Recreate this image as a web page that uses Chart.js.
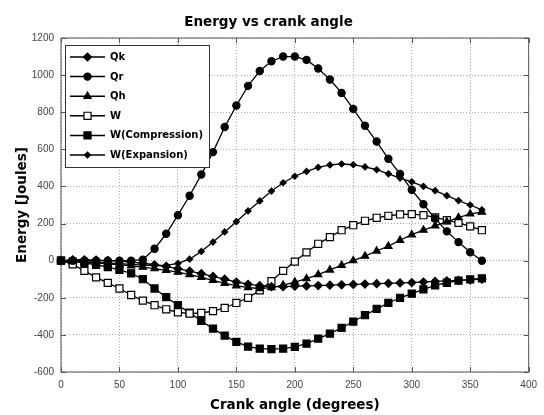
<!DOCTYPE html>
<html>
<head>
<meta charset="utf-8">
<script src="https://cdn.jsdelivr.net/npm/chart.js@4.4.1/dist/chart.umd.min.js"></script>
<style>
  html, body { margin: 0; padding: 0; background: #fff; }
  #wrap { width: 544px; height: 415px; }
</style>
</head>
<body>
<div id="wrap"><canvas id="energyChart" width="544" height="415"></canvas></div>
<script>
// --- Data (crank angle in degrees, energy in Joules) ---
const angles = [0, 10, 20, 30, 40, 50, 60, 70, 80, 90, 100, 110, 120, 130, 140, 150, 160, 170, 180,
                190, 200, 210, 220, 230, 240, 250, 260, 270, 280, 290, 300, 310, 320, 330, 340, 350, 360];

const qk = [0, 5, 5, 3, 0, -3, -8, -14, -22, -32, -43, -56, -70, -85, -100, -115, -127, -135, -140,
            -140, -138, -136, -134, -132, -130, -128, -126, -124, -122, -120, -118, -115, -112, -109, -106, -103, -100];
const qr = [0, 0, 0, 0, 0, 0, 0, 5, 64, 145, 245, 350, 464, 585, 720, 836, 942, 1022, 1075,
            1100, 1100, 1082, 1036, 976, 904, 818, 727, 642, 549, 467, 382, 304, 227, 158, 100, 45, 0];
const qh = [0, -3, -8, -12, -17, -22, -28, -35, -43, -52, -62, -75, -90, -106, -122, -135, -145, -150, -145,
            -132, -115, -97, -75, -50, -25, 0, 25, 52, 78, 110, 140, 165, 188, 210, 232, 252, 262];
const w = [0, -20, -55, -90, -120, -150, -185, -215, -240, -262, -278, -285, -282, -272, -255, -228, -200, -160, -110,
           -55, -5, 45, 91, 127, 164, 191, 215, 231, 242, 249, 251, 245, 233, 218, 204, 185, 164];
const wComp = [0, -5, -12, -22, -35, -50, -68, -100, -150, -197, -240, -280, -325, -366, -404, -438, -463, -474, -477,
               -474, -465, -447, -420, -393, -362, -328, -294, -260, -228, -200, -178, -155, -133, -119, -108, -101, -96];
const wExp = [0, -2, -5, -8, -12, -16, -20, -24, -26, -25, -15, 8, 50, 100, 155, 210, 268, 322, 375,
              420, 455, 481, 503, 516, 521, 517, 505, 490, 468, 445, 425, 400, 377, 350, 324, 300, 274];

const xTicks = [0, 50, 100, 150, 200, 250, 300, 350, 400];
const yTicks = [-600, -400, -200, 0, 200, 400, 600, 800, 1000, 1200];

const seriesNames = ['Qk', 'Qr', 'Qh', 'W', 'W(Compression)', 'W(Expansion)'];

// --- Styling per series: marker shape, size, fill ---
const markerStyles = [
    { shape: 'rectRot', radius: 4, fill: '#000' },
    { shape: 'circle', radius: 3.6, fill: '#000' },
    { shape: 'triangle', radius: 4.2, fill: '#000' },
    { shape: 'rect', radius: 5, fill: '#fff' },
    { shape: 'rect', radius: 5, fill: '#000' },
    { shape: 'rectRot', radius: 3, fill: '#000' }
];

function toPoints(values) {
    return values.map((v, i) => ({ x: angles[i], y: v }));
}

const allSeries = [qk, qr, qh, w, wComp, wExp];

const datasets = allSeries.map((vals, i) => ({
    label: seriesNames[i],
    data: toPoints(vals),
    borderColor: '#000',
    borderWidth: 1.3,
    pointStyle: markerStyles[i].shape,
    pointRadius: markerStyles[i].radius,
    pointBackgroundColor: markerStyles[i].fill,
    pointBorderColor: '#000',
    pointBorderWidth: 1.2,
    tension: 0,
    clip: false
}));

const tickFont = { family: '"Liberation Sans", Arial, sans-serif', size: 10 };
const titleFont = { family: '"DejaVu Sans", sans-serif', size: 13.5, weight: 'bold' };

// --- Frame with inner tick marks, MATLAB style ---
const framePlugin = {
    id: 'frame',
    beforeDatasetsDraw(chart) {
        const { ctx, chartArea: a, scales } = chart;
        ctx.save();
        ctx.strokeStyle = '#555';
        ctx.lineWidth = 1;
        ctx.setLineDash([]);
        ctx.strokeRect(a.left, a.top, a.right - a.left, a.bottom - a.top);
        const len = 5;
        ctx.beginPath();
        xTicks.forEach(t => {
            const x = Math.round(scales.x.getPixelForValue(t)) + 0.5;
            ctx.moveTo(x, a.bottom); ctx.lineTo(x, a.bottom - len);
            ctx.moveTo(x, a.top); ctx.lineTo(x, a.top + len);
        });
        yTicks.forEach(t => {
            const y = Math.round(scales.y.getPixelForValue(t)) + 0.5;
            ctx.moveTo(a.left, y); ctx.lineTo(a.left + len, y);
            ctx.moveTo(a.right, y); ctx.lineTo(a.right - len, y);
        });
        ctx.stroke();
        ctx.restore();
    }
};

// --- Legend box with line + marker samples ---
const legendPlugin = {
    id: 'boxLegend',
    afterDraw(chart) {
        const { ctx } = chart;
        const box = { x: 65.5, y: 45.5, w: 144, h: 122 };
        ctx.save();
        ctx.fillStyle = '#fff';
        ctx.fillRect(box.x, box.y, box.w, box.h);
        ctx.strokeStyle = '#333';
        ctx.lineWidth = 1;
        ctx.strokeRect(box.x, box.y, box.w, box.h);
        ctx.font = 'bold 10px "DejaVu Sans", sans-serif';
        ctx.textBaseline = 'middle';
        seriesNames.forEach((name, i) => {
            const y = 57 + i * 19.6;
            ctx.strokeStyle = '#000';
            ctx.lineWidth = 1.5;
            ctx.beginPath();
            ctx.moveTo(70, y); ctx.lineTo(105, y);
            ctx.stroke();
            const m = markerStyles[i];
            ctx.fillStyle = m.fill;
            ctx.lineWidth = 1.2;
            Chart.helpers.drawPoint(ctx, { pointStyle: m.shape, radius: m.radius, borderWidth: 1.2, rotation: 0 }, 87.5, y);
            ctx.fillStyle = '#000';
            ctx.fillText(name, 110, y + 0.5);
        });
        ctx.restore();
    }
};

const ctx = document.getElementById('energyChart').getContext('2d');
new Chart(ctx, {
    type: 'line',
    data: { datasets: datasets },
    options: {
        responsive: false,
        animation: false,
        layout: { padding: { left: 0, right: 7, top: 0, bottom: 0 } },
        plugins: {
            legend: { display: false },
            tooltip: { enabled: false },
            title: {
                display: true,
                text: 'Energy vs crank angle',
                color: '#000',
                font: titleFont,
                padding: { top: 14, bottom: 7.8 }
            }
        },
        scales: {
            x: {
                type: 'linear',
                min: 0,
                max: 400,
                afterBuildTicks: scale => { scale.ticks = xTicks.map(v => ({ value: v })); },
                afterFit: scale => { scale.height = 43; },
                grid: { color: '#aaa', lineWidth: 1, drawTicks: false },
                border: { display: false, dash: [1, 2] },
                ticks: { color: '#444', font: tickFont, padding: 7, maxRotation: 0, callback: v => String(v) },
                title: { display: true, text: 'Crank angle (degrees)', color: '#000', font: titleFont, padding: { top: 0, bottom: 1 } }
            },
            y: {
                type: 'linear',
                min: -600,
                max: 1200,
                afterBuildTicks: scale => { scale.ticks = yTicks.map(v => ({ value: v })); },
                afterFit: scale => { scale.width = 61; },
                grid: { color: '#aaa', lineWidth: 1, drawTicks: false },
                border: { display: false, dash: [1, 2] },
                ticks: { color: '#444', font: tickFont, padding: 7, callback: v => String(v) },
                title: { display: true, text: 'Energy [Joules]', color: '#000', font: titleFont, padding: { top: 14, bottom: 0 } }
            }
        }
    },
    plugins: [framePlugin, legendPlugin]
});
</script>
</body>
</html>
